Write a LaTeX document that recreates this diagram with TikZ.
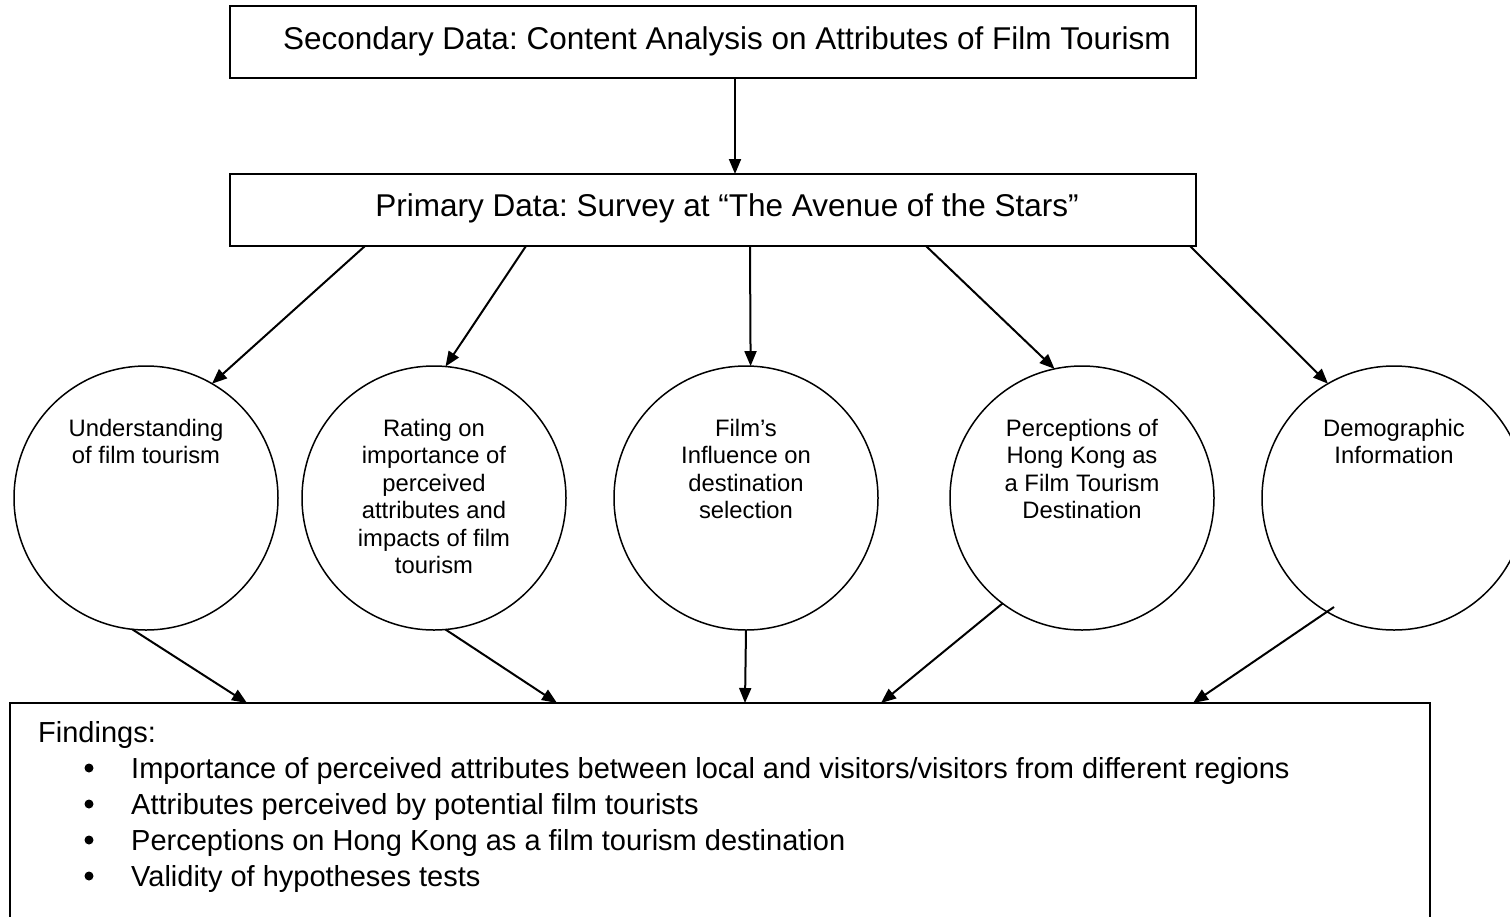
\documentclass[tikz,border=0pt]{standalone}
\usepackage{fontspec}
\setmainfont{Liberation Sans}
\usetikzlibrary{arrows.meta,calc}
\frenchspacing
\begin{document}
\begin{tikzpicture}[x=1pt,y=-1pt,
  box/.style={draw, line width=2pt, rectangle, inner sep=0, outer sep=0},
  circ/.style={draw, line width=1.5pt, circle, minimum size=264pt, inner sep=0, outer sep=0},
  arr/.style={line width=2pt, -{Triangle[length=15pt,width=12pt]}},
  hdr/.style={font=\fontsize{31.5}{36}\selectfont, inner sep=0, anchor=base},
  ctxt/.style={font=\fontsize{23.8}{27.4}\selectfont, align=center, inner sep=0, anchor=north},
  ftxt/.style={font=\fontsize{29}{36}\selectfont, inner sep=0, anchor=base west},
  dot/.style={circle, fill, minimum size=9pt, inner sep=0}]
\useasboundingbox (0,0) rectangle (1510,916);
\clip (0,0) rectangle (1510,916);

% data source boxes
\node[box, minimum width=966pt, minimum height=72pt] (sec) at (713,42) {};
\node[hdr] (sect) at (727,49) {Secondary Data: Content Analysis on Attributes of Film Tourism};
\node[box, minimum width=966pt, minimum height=72pt] (pri) at (713,210) {};
\node[hdr] (prit) at (727,216) {Primary Data: Survey at “The Avenue of the Stars”};

% survey topics
\node[circ] (c1) at (146,498) {};
\node[circ] (c2) at (434,498) {};
\node[circ] (c3) at (746,498) {};
\node[circ] (c4) at (1082,498) {};
\node[circ] (c5) at (1394,498) {};
\node[ctxt] (t1) at (146,419) {Understanding\\of film tourism};
\node[ctxt] (t2) at (434,419) {Rating on\\importance of\\perceived\\attributes and\\impacts of film\\tourism};
\node[ctxt] (t3) at (746,419) {Film’s\\Influence on\\destination\\selection};
\node[ctxt] (t4) at (1082,419) {Perceptions of\\Hong Kong as\\a Film Tourism\\Destination};
\node[ctxt] (t5) at (1394,419) {Demographic\\Information};

% findings box
\node[box, anchor=north west, minimum width=1420pt, minimum height=240pt] (fin) at (10,703) {};
\node[ftxt] (fh) at (38,742) {Findings:};
\node[dot] (b1) at (89,768) {};
\node[dot] (b2) at (89,804) {};
\node[dot] (b3) at (89,840) {};
\node[dot] (b4) at (89,876) {};
\node[ftxt] (f1) at (131,778) {Importance of perceived attributes between local and visitors/visitors from different regions};
\node[ftxt] (f2) at (131,814) {Attributes perceived by potential film tourists};
\node[ftxt] (f3) at (131,850) {Perceptions on Hong Kong as a film tourism destination};
\node[ftxt] (f4) at (131,886) {Validity of hypotheses tests};

% connectors
\draw[arr] ($(sec.south)+(22,0)$) -- ($(pri.north)+(22,0)$);
\draw[arr] ($(pri.south)+(-348,0)$) -- (c1.60);
\draw[arr] ($(pri.south)+(-187,0)$) -- (c2.85);
\draw[arr] ($(pri.south)+(37,0)$) -- (c3.88);
\draw[arr] ($(pri.south)+(213,0)$) -- (c4.102);
\draw[arr] ($(pri.south)+(477,0)$) -- (c5.120);

\draw[arr] (c1.264) -- ($(fin.north west)+(237,0)$);
\draw[arr] (c2.275) -- ($(fin.north west)+(547,0)$);
\draw[arr] (c3.270) -- ($(fin.north west)+(735,0)$);
\draw[arr] (c4.233) -- ($(fin.north west)+(871,0)$);
\draw[arr] ($(c5.center)+(-60,109)$) -- ($(fin.north west)+(1183,0)$);
\end{tikzpicture}
\end{document}
